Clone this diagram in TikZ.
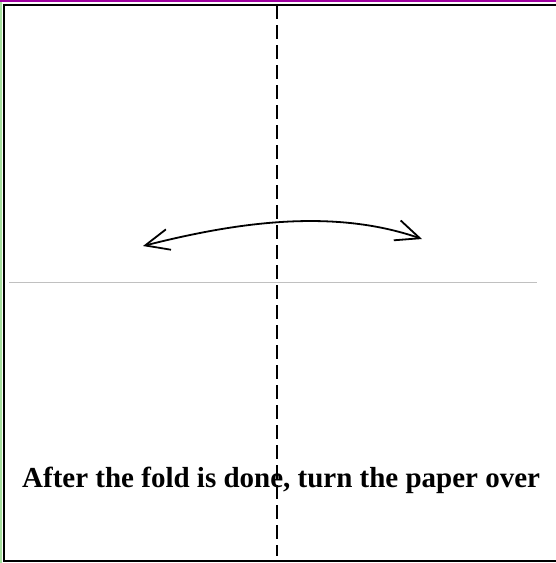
\documentclass[tikz,border=0pt]{standalone}
\usepackage{fontspec}
\setmainfont{Liberation Serif}
\usetikzlibrary{arrows.meta}
\definecolor{foldInk}{HTML}{000000}
\definecolor{foldEdgeTop}{HTML}{A000A0}
\definecolor{foldEdgeLeft}{HTML}{A8E0A0}
\definecolor{foldGuide}{HTML}{C0C0C0}
\tikzset{
  fold/frame/.style={draw=foldInk, line width=2pt},
  fold/edgetop/.style={draw=foldEdgeTop, line width=2pt},
  fold/edgeleft/.style={draw=foldEdgeLeft, line width=2pt},
  fold/crease/.style={draw=foldInk, line width=2pt, dash pattern=on 14pt off 6pt},
  fold/guide/.style={draw=foldGuide, line width=1pt},
  fold/turn/.style={draw=foldInk, line width=1.8pt,
    {Straight Barb[length=24pt,width=21pt,line width=1.8pt]}-{Straight Barb[length=24pt,width=21pt,line width=1.8pt]}},
  fold/caption/.style={font=\fontsize{29}{34}\selectfont\bfseries, inner sep=0pt, anchor=base west},
}

\begin{document}
\begin{tikzpicture}[x=1pt, y=-1pt]
\useasboundingbox (0,0) rectangle (556,563);

% ===== Paper edges =====
\draw[fold/edgetop]  (0,1) -- (556,1);
\draw[fold/edgeleft] (1,2) -- (1,563);
\draw[fold/frame] (556,5) -- (4,5) -- (4,561) -- (556,561);

% ===== Guide and crease =====
\coordinate (guideL) at (9,282);
\coordinate (guideR) at (537,282);
\draw[fold/guide] (guideL) -- (guideR);

\coordinate (creaseTop) at (277,5);
\coordinate (creaseBot) at (277,556);
\draw[fold/crease] (creaseTop) -- (creaseBot);

% ===== Turn-over arrow =====
\coordinate (turnL) at (143,246);
\coordinate (turnR) at (422,239);
\draw[fold/turn] (turnL) .. controls (230,224) and (330,207) .. (turnR);

% ===== Caption =====
\node[fold/caption] (caption) at (22,487) {After the fold is done, turn the paper over};

\end{tikzpicture}
\end{document}
